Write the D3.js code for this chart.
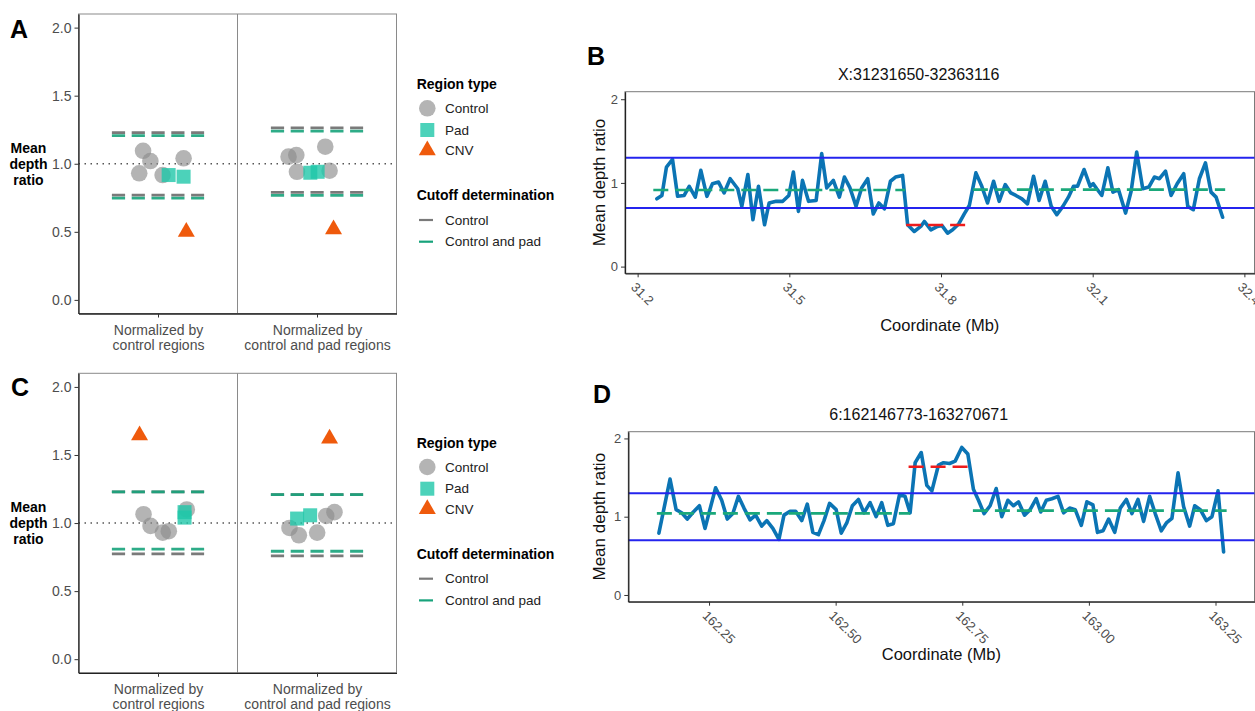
<!DOCTYPE html>
<html><head><meta charset="utf-8">
<script src="https://cdn.jsdelivr.net/npm/d3@7"></script>
<style>
body{margin:0;background:#fff}
svg{display:block;font-family:"Liberation Sans",Arial,Helvetica,sans-serif}
</style>
</head><body>
<svg id="chart" width="1255" height="711"></svg>
<script>
// ---------- data: dot panels (A, C) ----------
const dotCategories = ["Normalized by\ncontrol regions", "Normalized by\ncontrol and pad regions"];
const dotYTicks = [0, 0.5, 1.0, 1.5, 2.0];
const regionTypes = ["Control", "Pad", "CNV"];
const cutoffTypes = ["Control", "Control and pad"];

// Panel A
const aControlCat = [1,1,1,1,1,2,2,2,2,2];
const aControlVal = [1.095,1.02,0.93,0.917,1.04,1.052,1.064,0.941,1.125,0.949];
const aControlJit = [-0.094,-0.048,-0.118,0.029,0.161,-0.179,-0.130,-0.126,0.052,0.079];
const aPadCat = [1,1,2,2];
const aPadVal = [0.917,0.905,0.934,0.941];
const aPadJit = [0.067,0.161,-0.042,0.004];
const aCnvCat = [1,2];
const aCnvVal = [0.50,0.519];
const aCnvJit = [0.178,0.104];
const aCutControlUpper = [1.228,1.264];
const aCutControlLower = [0.770,0.790];
const aCutPadUpper = [1.206,1.240];
const aCutPadLower = [0.748,0.768];

// Panel C
const cControlCat = [1,1,1,1,1,2,2,2,2,2];
const cControlVal = [1.065,0.979,0.93,0.94,1.10,0.964,0.91,0.93,1.052,1.08];
const cControlJit = [-0.091,-0.047,0.030,0.068,0.181,-0.173,-0.114,0.001,0.058,0.110];
const cPadCat = [1,1,2,2];
const cPadVal = [1.08,1.04,1.033,1.057];
const cPadJit = [0.167,0.167,-0.125,-0.043];
const cCnvCat = [1,2];
const cCnvVal = [1.645,1.62];
const cCnvJit = [-0.116,0.079];
const cCutControlUpper = [1.229,1.209];
const cCutControlLower = [0.773,0.759];
const cCutPadUpper = [1.229,1.209];
const cCutPadLower = [0.808,0.793];

// ---------- data: line panels (B, D) ----------
const thresholds = [0.7, 1.3];
const bTitle = "X:31231650-32363116";
const bXTicks = [31.2, 31.5, 31.8, 32.1, 32.4];
const bCoordMb = [31.238,31.248,31.257,31.269,31.279,31.292,31.302,31.314,31.325,31.337,
 31.348,31.360,31.371,31.383,31.398,31.406,31.418,31.428,31.439,31.451,
 31.460,31.474,31.487,31.499,31.508,31.518,31.526,31.538,31.553,31.564,
 31.574,31.587,31.599,31.609,31.620,31.632,31.643,31.655,31.666,31.677,
 31.688,31.700,31.710,31.724,31.734,31.747,31.760,31.767,31.780,31.793,
 31.802,31.813,31.823,31.835,31.846,31.856,31.869,31.880,31.892,31.904,
 31.915,31.927,31.938,31.948,31.960,31.971,31.983,31.994,32.006,32.018,
 32.029,32.041,32.052,32.062,32.070,32.083,32.095,32.101,32.108,32.118,
 32.130,32.140,32.151,32.165,32.176,32.187,32.199,32.211,32.222,32.232,
 32.244,32.255,32.267,32.280,32.288,32.299,32.311,32.323,32.334,32.344,32.357];
const bDepth = [0.81,0.85,1.19,1.28,0.84,0.85,0.96,0.83,1.15,0.84,
 0.99,1.01,0.88,1.05,0.93,0.72,1.10,0.56,0.96,0.50,
 0.76,0.78,0.78,0.85,1.13,0.66,1.03,0.78,0.79,1.35,
 0.94,1.03,0.83,1.07,0.94,0.72,0.94,1.05,0.63,0.76,
 0.69,1.02,1.07,1.09,0.50,0.42,0.48,0.54,0.44,0.48,
 0.49,0.40,0.44,0.51,0.63,0.73,1.12,0.97,0.76,1.02,
 0.78,0.98,0.88,0.85,0.81,0.75,1.08,0.79,1.02,0.72,
 0.62,0.72,0.83,0.96,0.96,1.16,0.96,0.99,0.93,0.85,
 1.18,0.89,0.92,0.64,0.90,1.37,0.93,0.95,1.07,1.05,
 1.14,0.85,0.99,1.11,0.72,0.68,1.05,1.24,0.89,0.83,0.59];
const bSegStart = [31.231, 31.731, 31.863];
const bSegEnd = [31.729, 31.861, 32.362];
const bSegVal = [0.915, 0.497, 0.920];
const bSegIsCnv = [false, true, false];

const dTitle = "6:162146773-163270671";
const dXTicks = [162.25, 162.50, 162.75, 163.00, 163.25];
const dCoordMb = [162.151,162.173,162.185,162.196,162.207,162.219,162.231,162.242,162.263,162.275,
 162.286,162.297,162.308,162.319,162.331,162.342,162.354,162.364,162.376,162.388,
 162.398,162.410,162.421,162.433,162.444,162.455,162.466,162.477,162.488,162.501,
 162.511,162.522,162.533,162.545,162.556,162.568,162.580,162.591,162.603,162.614,
 162.626,162.637,162.647,162.657,162.669,162.680,162.690,162.703,162.713,162.725,
 162.736,162.749,162.761,162.772,162.782,162.793,162.805,162.817,162.828,162.840,
 162.851,162.861,162.873,162.884,162.896,162.905,162.916,162.927,162.939,162.950,
 162.962,162.973,162.985,162.996,163.008,163.017,163.028,163.039,163.051,163.062,
 163.074,163.085,163.097,163.108,163.120,163.131,163.143,163.153,163.164,163.176,
 163.187,163.199,163.209,163.220,163.232,163.243,163.255,163.266];
const dDepth = [0.79,1.48,1.09,1.05,0.97,1.06,1.14,0.85,1.37,1.21,
 0.97,1.04,1.26,1.11,0.96,1.02,0.88,0.95,0.85,0.71,
 1.02,1.07,1.07,0.95,1.16,0.80,0.77,0.95,1.17,1.09,
 0.79,0.92,1.14,1.22,1.05,1.18,1.00,1.18,0.89,0.91,
 1.28,1.26,1.05,1.69,1.82,1.40,1.33,1.66,1.69,1.68,
 1.71,1.885,1.80,1.35,1.21,1.04,1.14,1.36,1.00,1.21,
 1.14,1.19,1.02,1.09,1.23,1.06,1.21,1.23,1.26,1.05,
 1.11,1.09,0.89,1.19,1.15,0.80,0.82,0.97,0.80,1.11,
 1.22,1.04,1.22,0.94,1.26,1.04,0.82,0.92,0.98,1.56,
 1.13,0.88,1.14,1.09,0.95,1.00,1.33,0.55];
const dSegStart = [162.147, 162.644, 162.771];
const dSegEnd = [162.647, 162.771, 163.272];
const dSegVal = [1.043, 1.638, 1.077];
const dSegIsCnv = [false, true, false];

// ---------- styles ----------
const COL = {
  control: "#8c8c8c", pad: "#1fc7a9", cnv: "#ef5a0c",
  cutGray: "#7a7a7a", cutGreen: "#17a37b",
  trace: "#0b74b4", thresh: "#2424ee", segGreen: "#1aa87a", segRed: "#ee1c1c",
  tick: "#4d4d4d", axis: "#222"
};

const svg = d3.select("#chart");

function panelLetter(txt, x, y) {
  svg.append("text").attr("x", x).attr("y", y).text(txt)
    .attr("font-size", 25).attr("font-weight", "bold").attr("fill", "#000");
}

function styleAxis(g) {
  g.select(".domain").attr("stroke", COL.axis).attr("stroke-width", 1.3);
  g.selectAll(".tick line").attr("stroke", "#333").attr("stroke-width", 1);
  g.selectAll(".tick text").attr("fill", COL.tick).attr("font-family", null);
}

function dotPanel(top, d) {
  const left = 78.5, right = 396.5, bottom = top + 299.5;
  const x = d3.scaleLinear().domain([0.5, 2.5]).range([left, right]);
  const y = d3.scaleLinear().domain([-0.1, 2.1]).range([bottom, top]);
  const g = svg.append("g");

  g.append("rect").attr("x", left).attr("y", top).attr("width", right - left).attr("height", bottom - top)
    .attr("fill", "none").attr("stroke", "#8a8a8a").attr("stroke-width", 1);
  g.append("line").attr("x1", x(1.5)).attr("x2", x(1.5)).attr("y1", top).attr("y2", bottom)
    .attr("stroke", "#8a8a8a").attr("stroke-width", 1);
  g.append("line").attr("x1", left).attr("x2", right).attr("y1", y(1)).attr("y2", y(1))
    .attr("stroke", "#555").attr("stroke-width", 1.5).attr("stroke-dasharray", "1.5,4.5");

  // cutoff segments
  const segs = [];
  [1, 2].forEach((c, i) => {
    segs.push({c, v: d.cutControlUpper[i], col: COL.cutGray, op: 1});
    segs.push({c, v: d.cutControlLower[i], col: COL.cutGray, op: 1});
  });
  [1, 2].forEach((c, i) => {
    segs.push({c, v: d.cutPadUpper[i], col: COL.cutGreen, op: 0.9});
    segs.push({c, v: d.cutPadLower[i], col: COL.cutGreen, op: 0.9});
  });
  g.selectAll(null).data(segs).join("line")
    .attr("x1", s => x(s.c - 0.29)).attr("x2", s => x(s.c + 0.29))
    .attr("y1", s => y(s.v)).attr("y2", s => y(s.v))
    .attr("stroke", s => s.col).attr("stroke-opacity", s => s.op)
    .attr("stroke-width", 2.8).attr("stroke-dasharray", "13.2,6.6");

  // points
  g.selectAll(null).data(d.controlVal.map((v, i) => ({v, c: d.controlCat[i], j: d.controlJit[i]})))
    .join("circle").attr("cx", p => x(p.c + p.j)).attr("cy", p => y(p.v)).attr("r", 8.3)
    .attr("fill", COL.control).attr("fill-opacity", 0.65);
  g.selectAll(null).data(d.padVal.map((v, i) => ({v, c: d.padCat[i], j: d.padJit[i]})))
    .join("rect").attr("x", p => x(p.c + p.j) - 7).attr("y", p => y(p.v) - 7)
    .attr("width", 14).attr("height", 14)
    .attr("fill", COL.pad).attr("fill-opacity", 0.8);
  const tri = d3.symbol().type(d3.symbolTriangle).size(125);
  g.selectAll(null).data(d.cnvVal.map((v, i) => ({v, c: d.cnvCat[i], j: d.cnvJit[i]})))
    .join("path").attr("d", tri)
    .attr("transform", p => `translate(${x(p.c + p.j)},${y(p.v)})`)
    .attr("fill", COL.cnv);

  // axes
  const ya = g.append("g").attr("transform", `translate(${left},0)`)
    .call(d3.axisLeft(y).tickValues(dotYTicks).tickFormat(d3.format(".1f")).tickSize(4).tickSizeOuter(0).tickPadding(3));
  styleAxis(ya);
  ya.selectAll(".tick text").attr("font-size", 14);
  const xa = g.append("g").attr("transform", `translate(0,${bottom})`)
    .call(d3.axisBottom(x).tickValues([1, 2]).tickFormat((v) => dotCategories[v - 1]).tickSize(4).tickSizeOuter(0));
  styleAxis(xa);
  xa.selectAll(".tick text").each(function(t) {
    const lines = dotCategories[t - 1].split("\n");
    const el = d3.select(this).text(null).attr("y", null).attr("dy", null).attr("font-size", 14);
    lines.forEach((ln, k) => {
      el.append("tspan").attr("x", 0).attr("y", 16 + 15 * k).attr("dominant-baseline", "central").text(ln);
    });
  });

  // y title
  const yt = g.append("text").attr("text-anchor", "middle").attr("font-weight", "bold").attr("font-size", 14).attr("fill", "#000");
  ["Mean", "depth", "ratio"].forEach((w, k) => {
    yt.append("tspan").attr("x", 28.5).attr("y", y(1) - 15.7 + 15.8 * k).attr("dominant-baseline", "central").text(w);
  });
}

function legend(top) {
  const g = svg.append("g");
  const lx = 416.7, sx = 427.3, tx = 445;
  g.append("text").attr("x", lx).attr("y", top).attr("dominant-baseline", "central")
    .attr("font-size", 14).attr("font-weight", "bold").text("Region type");
  const off = [24.3, 46, 66.3];
  g.append("circle").attr("cx", sx).attr("cy", top + off[0]).attr("r", 8.3).attr("fill", COL.control).attr("fill-opacity", 0.65);
  g.append("rect").attr("x", sx - 7).attr("y", top + off[1] - 7).attr("width", 14).attr("height", 14).attr("fill", COL.pad).attr("fill-opacity", 0.8);
  g.append("path").attr("d", d3.symbol().type(d3.symbolTriangle).size(125)).attr("transform", `translate(${sx},${top + off[2]})`).attr("fill", COL.cnv);
  regionTypes.forEach((r, i) => {
    g.append("text").attr("x", tx).attr("y", top + off[i]).attr("dominant-baseline", "central")
      .attr("font-size", 13.5).attr("fill", "#222").text(r);
  });
  g.append("text").attr("x", lx).attr("y", top + 111).attr("dominant-baseline", "central")
    .attr("font-size", 14).attr("font-weight", "bold").text("Cutoff determination");
  const lo = [136, 157.7], lc = [COL.cutGray, COL.cutGreen];
  cutoffTypes.forEach((c, i) => {
    g.append("line").attr("x1", 419).attr("x2", 433).attr("y1", top + lo[i]).attr("y2", top + lo[i])
      .attr("stroke", lc[i]).attr("stroke-width", 2.2);
    g.append("text").attr("x", tx).attr("y", top + lo[i]).attr("dominant-baseline", "central")
      .attr("font-size", 13.5).attr("fill", "#222").text(c);
  });
}

function linePanel(cfg) {
  const {left, right, top, bottom} = cfg;
  const x = d3.scaleLinear().domain(cfg.xDomain).range([left, right]);
  const y = d3.scaleLinear().domain(cfg.yDomain).range([bottom, top]);
  const g = svg.append("g");
  g.append("rect").attr("x", left).attr("y", top).attr("width", right - left).attr("height", bottom - top)
    .attr("fill", "none").attr("stroke", "#7a7a7a").attr("stroke-width", 1);

  const pts = cfg.xs.map((v, i) => [v, cfg.ys[i]]);
  g.append("path").datum(pts)
    .attr("d", d3.line().x(p => x(p[0])).y(p => y(p[1])))
    .attr("fill", "none").attr("stroke", COL.trace).attr("stroke-width", 3.6)
    .attr("stroke-linejoin", "round").attr("stroke-linecap", "round");

  g.selectAll(null).data(thresholds).join("line")
    .attr("x1", left).attr("x2", right).attr("y1", v => y(v)).attr("y2", v => y(v))
    .attr("stroke", COL.thresh).attr("stroke-width", 2);

  const segs = cfg.segStart.map((s, i) => ({s, e: cfg.segEnd[i], v: cfg.segVal[i], cnv: cfg.segIsCnv[i]}));
  g.selectAll(null).data(segs).join("line")
    .attr("x1", s => x(s.s)).attr("x2", s => x(s.e)).attr("y1", s => y(s.v)).attr("y2", s => y(s.v))
    .attr("stroke", s => s.cnv ? COL.segRed : COL.segGreen).attr("stroke-width", 2.6)
    .attr("stroke-dasharray", "15,7");

  const ya = g.append("g").attr("transform", `translate(${left},0)`)
    .call(d3.axisLeft(y).tickValues([0, 1, 2]).tickFormat(d3.format("d")).tickSize(4).tickSizeOuter(0).tickPadding(3));
  styleAxis(ya);
  ya.selectAll(".tick text").attr("font-size", 13);

  const xa = g.append("g").attr("transform", `translate(0,${bottom})`)
    .call(d3.axisBottom(x).tickValues(cfg.xTicks).tickFormat(d3.format(cfg.xFmt)).tickSize(4).tickSizeOuter(0));
  styleAxis(xa);
  xa.selectAll(".tick text").attr("font-size", 13).attr("y", null).attr("dy", null)
    .attr("text-anchor", "start").attr("dominant-baseline", "hanging")
    .attr("transform", "translate(-1,8) rotate(45)");

  g.append("text").attr("x", 918.7).attr("y", top - 17).attr("text-anchor", "middle").attr("dominant-baseline", "central")
    .attr("font-size", 16).attr("fill", "#111").text(cfg.title);
  g.append("text").attr("transform", `translate(599,${(top + bottom) / 2}) rotate(-90)`)
    .attr("text-anchor", "middle").attr("dominant-baseline", "central")
    .attr("font-size", 17).attr("fill", "#111").text("Mean depth ratio");
  g.append("text").attr("x", (left + right) / 2).attr("y", bottom + 52).attr("text-anchor", "middle")
    .attr("dominant-baseline", "central").attr("font-size", 16.5).attr("fill", "#111").text("Coordinate (Mb)");
}

// ---------- draw ----------
panelLetter("A", 10, 38);
panelLetter("C", 11, 396);
panelLetter("B", 587, 65);
panelLetter("D", 593, 403);

dotPanel(14, {
  controlCat: aControlCat, controlVal: aControlVal, controlJit: aControlJit,
  padCat: aPadCat, padVal: aPadVal, padJit: aPadJit,
  cnvCat: aCnvCat, cnvVal: aCnvVal, cnvJit: aCnvJit,
  cutControlUpper: aCutControlUpper, cutControlLower: aCutControlLower,
  cutPadUpper: aCutPadUpper, cutPadLower: aCutPadLower
});
dotPanel(373.3, {
  controlCat: cControlCat, controlVal: cControlVal, controlJit: cControlJit,
  padCat: cPadCat, padVal: cPadVal, padJit: cPadJit,
  cnvCat: cCnvCat, cnvVal: cCnvVal, cnvJit: cCnvJit,
  cutControlUpper: cCutControlUpper, cutControlLower: cCutControlLower,
  cutPadUpper: cCutPadUpper, cutPadLower: cCutPadLower
});
legend(84);
legend(442.7);

linePanel({
  left: 625, right: 1254.5, top: 91.7, bottom: 273.3,
  xDomain: [31.175, 32.42], yDomain: [-0.08, 2.09],
  xTicks: bXTicks, xFmt: ".1f", xs: bCoordMb, ys: bDepth,
  segStart: bSegStart, segEnd: bSegEnd, segVal: bSegVal, segIsCnv: bSegIsCnv, title: bTitle
});
linePanel({
  left: 628.3, right: 1254.5, top: 431.7, bottom: 601.7,
  xDomain: [162.0906, 163.327], yDomain: [-0.086, 2.086],
  xTicks: dXTicks, xFmt: ".2f", xs: dCoordMb, ys: dDepth,
  segStart: dSegStart, segEnd: dSegEnd, segVal: dSegVal, segIsCnv: dSegIsCnv, title: dTitle
});
</script>
</body></html>
